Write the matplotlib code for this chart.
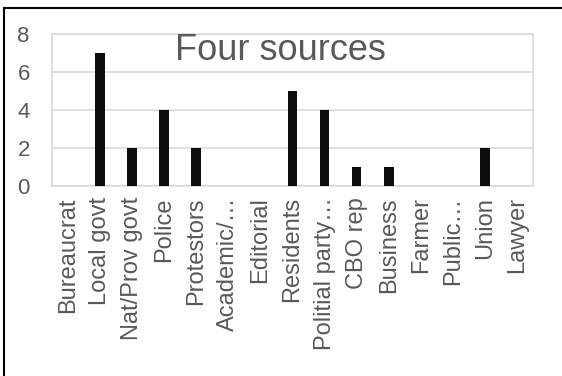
import matplotlib.pyplot as plt
import matplotlib.patches as patches
import numpy as np

categorias = ['Bureaucrat', 'Local govt', 'Nat/Prov govt', 'Police', 'Protestors',
              'Academic/…', 'Editorial', 'Residents', 'Politial party…', 'CBO rep',
              'Business', 'Farmer', 'Public…', 'Union', 'Lawyer']
valores = [0, 7, 2, 4, 2, 0, 0, 5, 4, 1, 1, 0, 0, 2, 0]
yticks = [0, 2, 4, 6, 8]

plt.rcParams['font.family'] = ['Liberation Sans', 'DejaVu Sans']
cinza = '#595959'

fig = plt.figure(figsize=(5.62, 3.76), dpi=100)
ax = fig.add_axes([52/562, 1 - 186/376, (533-52)/562, (186-34)/376])

x = np.arange(len(categorias))
ax.bar(x, valores, width=0.3, color='#0d0d0d', zorder=3)
ax.set_xlim(-0.5, len(categorias) - 0.5)
ax.set_ylim(0, 8)
ax.set_yticks(yticks)
ax.set_xticks(x)
ax.set_xticklabels(categorias, rotation=90, fontsize=17, color=cinza)
ax.tick_params(axis='y', labelsize=16, labelcolor=cinza, length=0, pad=16)
ax.tick_params(axis='x', length=0, pad=8)
ax.yaxis.grid(True, color='#d9d9d9', linewidth=1.2, zorder=0)
for s in ax.spines.values():
    s.set_color('#d9d9d9')
    s.set_linewidth(1.2)

fig.text(280/562, 1 - 50/376, 'Four sources', fontsize=26, color=cinza,
         ha='center', va='center')

# moldura da figura
fig.patches.append(patches.Rectangle((4/562, -0.1), 2, 1 - 8/376 + 0.1,
                                     transform=fig.transFigure, fill=False,
                                     edgecolor='black', linewidth=1.5))

fig.savefig('out.png', dpi=100)
